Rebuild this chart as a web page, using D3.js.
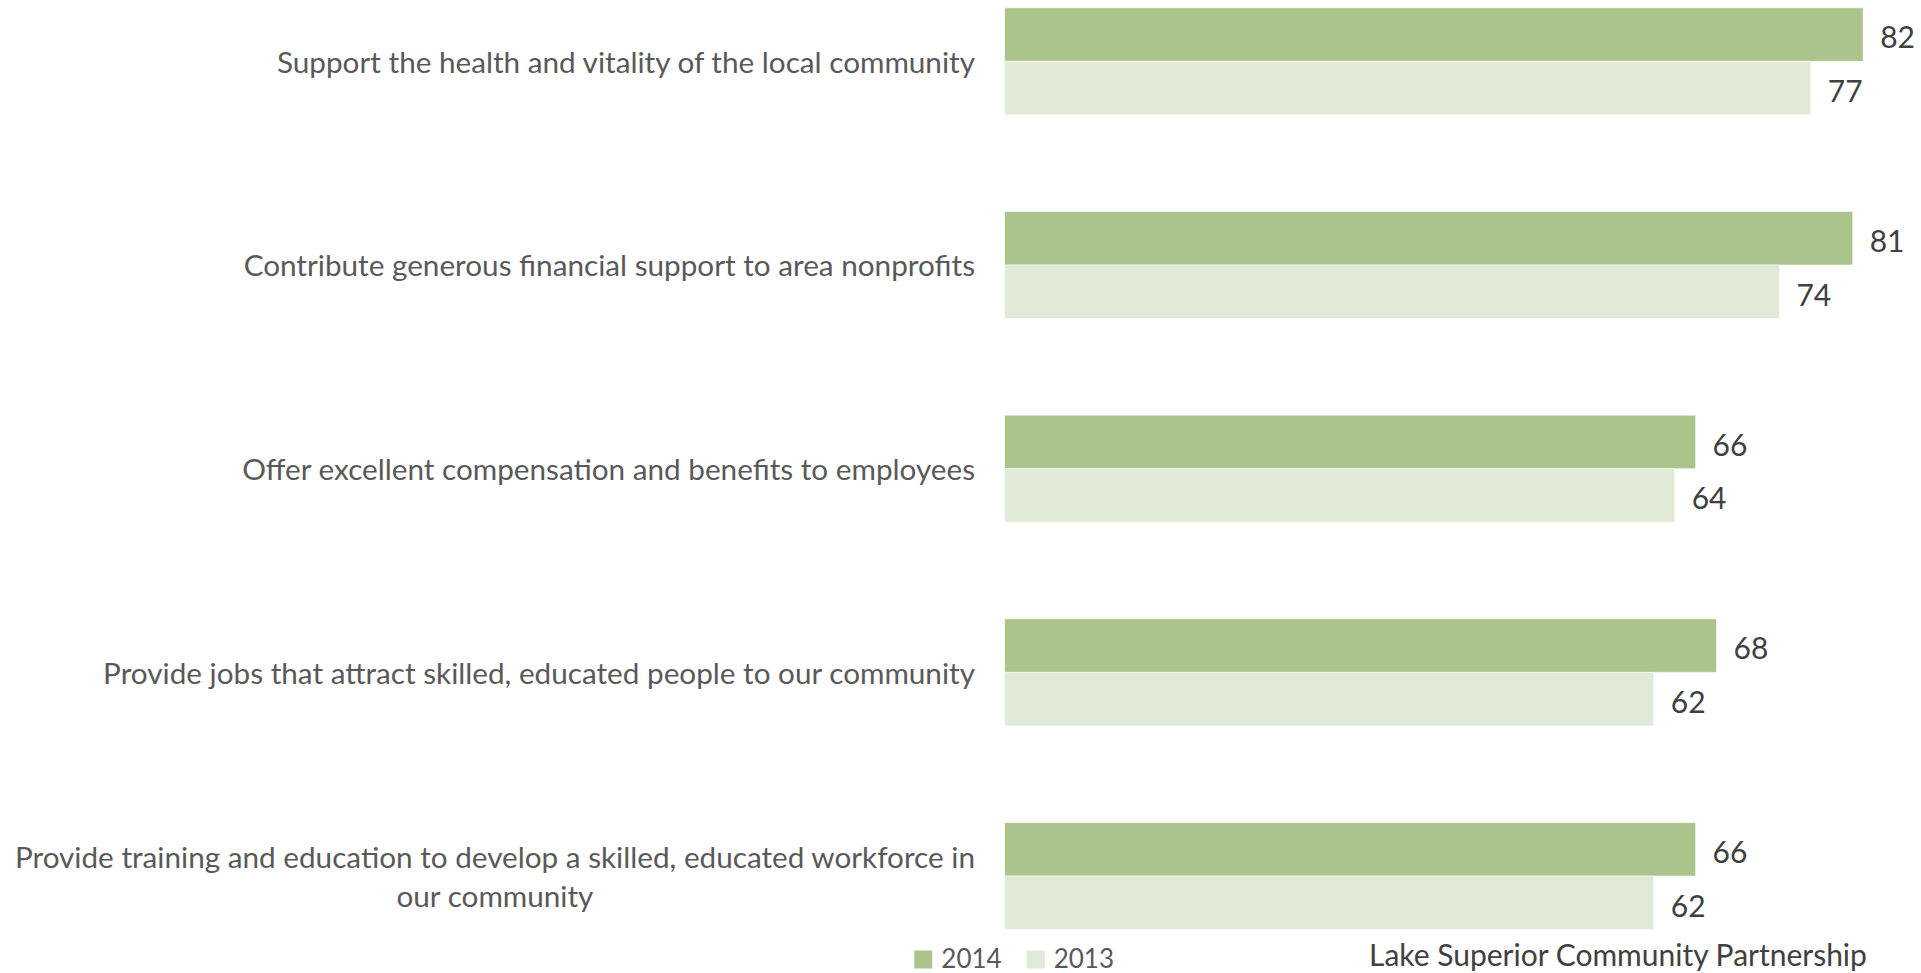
<!DOCTYPE html>
<html>
<head>
<meta charset="utf-8">
<script src="https://cdn.jsdelivr.net/npm/d3@7"></script>
<style>
  html, body { margin: 0; padding: 0; background: #fff; overflow: hidden; }
  svg { display: block; font-family: Lato, "Open Sans", sans-serif; }
</style>
</head>
<body>
<svg id="chart" width="1921" height="973"></svg>
<script>
// Survey statements (top to bottom) and agreement scores per year
const categories = [
  "Support the health and vitality of the local community",
  "Contribute generous financial support to area nonprofits",
  "Offer excellent compensation and benefits to employees",
  "Provide jobs that attract skilled, educated people to our community",
  "Provide training and education to develop a skilled, educated workforce in|our community"
];
const years = ["2014", "2013"];
const values2014 = [82, 81, 66, 68, 66];
const values2013 = [77, 74, 64, 62, 62];
const sourceText = "Lake Superior Community Partnership";

const colors = { "2014": "#abc48b", "2013": "#e1ead7" };
const seriesValues = { "2014": values2014, "2013": values2013 };

const svg = d3.select("#chart");

// Horizontal value axis (not drawn, only positions the bars)
const x = d3.scaleLinear().domain([0, 100]).range([1004.6, 1004.6 + 1047]);

// Category bands and the pair of year bars inside each band
const step = 203.7;
const yTop = 61.3 - step / 2;
const y = d3.scaleBand()
  .domain(categories)
  .range([yTop, yTop + step * categories.length])
  .paddingInner(0.4747)
  .paddingOuter(0.4747 / 2);
const ySub = d3.scaleBand().domain(years).range([0, y.bandwidth()]);

const rows = categories.map((c, i) => ({ cat: c, i }));

const groups = svg.append("g").selectAll("g.cat")
  .data(rows)
  .join("g")
  .attr("class", "cat")
  .attr("transform", d => `translate(0,${y(d.cat)})`);

groups.selectAll("rect")
  .data(d => years.map(yr => ({ yr, v: seriesValues[yr][d.i] })))
  .join("rect")
  .attr("x", x(0))
  .attr("y", d => ySub(d.yr))
  .attr("width", d => x(d.v) - x(0))
  .attr("height", ySub.bandwidth())
  .attr("fill", d => colors[d.yr])
  .attr("stroke", "rgba(255,255,255,0.55)")
  .attr("stroke-width", 1);

// Value labels at the bar ends
groups.selectAll("text.val")
  .data(d => years.map(yr => ({ yr, v: seriesValues[yr][d.i] })))
  .join("text")
  .attr("class", "val")
  .attr("x", d => x(d.v) + 17)
  .attr("y", d => ySub(d.yr) + ySub.bandwidth() / 2 + 3)
  .attr("dy", "0.36em")
  .attr("font-size", 30)
  .attr("fill", "#404040")
  .text(d => d.v);

// Category labels, right aligned beside the bars; wrapped lines centred
const labelRight = 975;
const lineGap = 39;
const labelSize = 29.7;
rows.forEach(r => {
  const lines = r.cat.split("|");
  const cy = y(r.cat) + y.bandwidth() / 2 + 1;
  const g = svg.append("g");
  const first = g.append("text")
    .attr("x", labelRight)
    .attr("y", cy - (lines.length - 1) * lineGap / 2)
    .attr("dy", "0.35em")
    .attr("text-anchor", "end")
    .attr("font-size", labelSize)
    .attr("fill", "#595959")
    .text(lines[0]);
  if (lines.length > 1) {
    const w = first.node().getComputedTextLength();
    const mid = labelRight - w / 2;
    lines.slice(1).forEach((ln, k) => {
      g.append("text")
        .attr("x", mid)
        .attr("y", cy - (lines.length - 1) * lineGap / 2 + (k + 1) * lineGap)
        .attr("dy", "0.35em")
        .attr("text-anchor", "middle")
        .attr("font-size", labelSize)
        .attr("fill", "#595959")
        .text(ln);
    });
  }
});

// Legend
const legendX = [914.3, 1026.7];
const legend = svg.append("g").selectAll("g")
  .data(years)
  .join("g")
  .attr("transform", (d, i) => `translate(${legendX[i]},950.5)`);
legend.append("rect")
  .attr("width", 18).attr("height", 18)
  .attr("fill", d => colors[d]);
legend.append("text")
  .attr("x", 27).attr("y", 17.5)
  .attr("font-size", 26)
  .attr("fill", "#595959")
  .text(d => d);

// Source note
svg.append("text")
  .attr("x", 1369)
  .attr("y", 966)
  .attr("font-size", 30)
  .attr("fill", "#404040")
  .text(sourceText);
</script>
</body>
</html>
